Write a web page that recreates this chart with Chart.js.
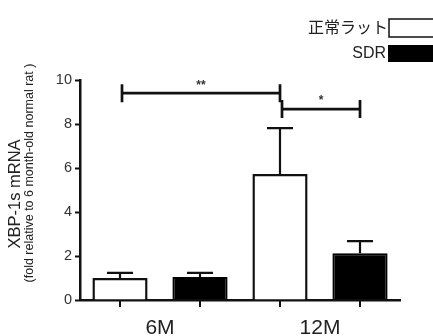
<!DOCTYPE html>
<html>
<head>
<meta charset="utf-8">
<script src="https://cdn.jsdelivr.net/npm/chart.js@4.4.0/dist/chart.umd.min.js"></script>
<style>
  html, body { margin: 0; padding: 0; background: #fff; }
  #wrap { width: 433px; height: 336px; position: relative; }
</style>
</head>
<body>
<div id="wrap"><canvas id="xbpChart"></canvas></div>
<script>
// chart values
const categories = ['6M', '12M'];
const seriesNames = ['正常ラット', 'SDR'];
const normalMean = [1.0, 5.73];
const normalSem = [0.23, 2.08];
const sdrMean = [1.05, 2.12];
const sdrSem = [0.18, 0.56];
const yTicks = [0, 2, 4, 6, 8, 10];
// significance brackets: bar index from, bar index to, height, label
const sigFrom = [0, 2];
const sigTo = [2, 3];
const sigLevel = [9.4, 8.68];
const sigLabel = ['**', '*'];

const titleLines = ['XBP-1s mRNA', '(fold relative to 6 month-old normal rat )'];
const FONT = '"Liberation Sans", Arial, sans-serif';

const errorBars = {
  id: 'errorBars',
  afterDatasetsDraw(chart) {
    const ctx = chart.ctx, y = chart.scales.y;
    const sems = [normalSem, sdrSem];
    ctx.save();
    ctx.strokeStyle = '#111';
    ctx.lineWidth = 2.2;
    chart.data.datasets.forEach((ds, i) => {
      chart.getDatasetMeta(i).data.forEach((bar, j) => {
        const top = y.getPixelForValue(ds.data[j] + sems[i][j]);
        ctx.beginPath();
        ctx.moveTo(bar.x, bar.y);
        ctx.lineTo(bar.x, top);
        ctx.moveTo(bar.x - 13, top);
        ctx.lineTo(bar.x + 13, top);
        ctx.stroke();
      });
    });
    ctx.restore();
  }
};

const extras = {
  id: 'extras',
  afterDraw(chart) {
    const ctx = chart.ctx, y = chart.scales.y, area = chart.chartArea;
    const bars = [];
    categories.forEach((c, j) => {
      chart.data.datasets.forEach((ds, i) => bars.push(chart.getDatasetMeta(i).data[j]));
    });
    bars.sort((a, b) => a.x - b.x);
    ctx.save();
    ctx.strokeStyle = '#111';
    ctx.lineWidth = 2;
    // x tick marks under each bar
    bars.forEach(b => {
      ctx.beginPath();
      ctx.moveTo(b.x, area.bottom);
      ctx.lineTo(b.x, area.bottom + 7);
      ctx.stroke();
    });
    // significance brackets
    ctx.lineWidth = 2.7;
    ctx.fillStyle = '#333';
    ctx.font = 'bold 12px ' + FONT;
    ctx.textAlign = 'center';
    ctx.textBaseline = 'middle';
    sigLevel.forEach((lv, k) => {
      const x1 = bars[sigFrom[k]].x + 2, x2 = bars[sigTo[k]].x;
      const yy = y.getPixelForValue(lv);
      ctx.beginPath();
      ctx.moveTo(x1, yy); ctx.lineTo(x2, yy);
      ctx.moveTo(x1, yy - 9); ctx.lineTo(x1, yy + 9);
      ctx.moveTo(x2, yy - 9); ctx.lineTo(x2, yy + 9);
      ctx.stroke();
      ctx.fillText(sigLabel[k], (x1 + x2) / 2, yy - 8);
    });
    // y axis title
    ctx.fillStyle = '#222';
    ctx.save();
    ctx.translate(15, 194);
    ctx.rotate(-Math.PI / 2);
    ctx.font = '16.5px ' + FONT;
    ctx.fillText(titleLines[0], 0, 0);
    ctx.restore();
    ctx.save();
    ctx.translate(30, 173);
    ctx.rotate(-Math.PI / 2);
    ctx.font = '12.5px ' + FONT;
    ctx.fillText(titleLines[1], 0, 0);
    ctx.restore();
    // legend
    ctx.textAlign = 'right';
    ctx.font = '16px "Noto Sans CJK JP", sans-serif';
    ctx.fillStyle = '#222';
    ctx.fillText(seriesNames[0], 388, 27);
    ctx.font = '16px ' + FONT;
    ctx.fillText(seriesNames[1], 386, 54);
    ctx.lineWidth = 1.5;
    ctx.fillStyle = '#fff';
    ctx.fillRect(389, 19, 50, 18);
    ctx.strokeRect(389, 19, 50, 18);
    ctx.fillStyle = '#000';
    ctx.fillRect(388, 45, 50, 17);
    ctx.restore();
  }
};

const ctxEl = document.getElementById('xbpChart');
new Chart(ctxEl, {
  type: 'bar',
  data: {
    labels: categories,
    datasets: [
      {
        label: seriesNames[0],
        data: normalMean,
        backgroundColor: '#fff',
        borderColor: '#111',
        borderWidth: 2.5
      },
      {
        label: seriesNames[1],
        data: sdrMean,
        backgroundColor: '#000',
        borderColor: '#000',
        borderWidth: 2
      }
    ]
  },
  options: {
    responsive: true,
    maintainAspectRatio: false,
    animation: false,
    categoryPercentage: 1.0,
    barPercentage: 0.69,
    layout: {
      padding: { top: 80, right: 33, left: 0, bottom: 0 }
    },
    plugins: {
      legend: { display: false },
      tooltip: { enabled: false }
    },
    scales: {
      x: {
        grid: { display: false, drawTicks: false },
        border: { display: true, color: '#111', width: 2.5 },
        ticks: {
          color: '#222',
          padding: 16,
          font: { size: 21, family: FONT }
        },
        afterFit(scale) { scale.height = 36; }
      },
      y: {
        min: 0,
        max: 10,
        afterBuildTicks(scale) { scale.ticks = yTicks.map(v => ({ value: v })); },
        grid: {
          drawOnChartArea: false,
          tickLength: 5,
          tickColor: '#111',
          tickWidth: 2
        },
        border: { display: true, color: '#111', width: 2.5 },
        ticks: {
          color: '#333',
          padding: 3,
          font: { size: 14.5, family: FONT }
        },
        afterFit(scale) { scale.width = 80; }
      }
    }
  },
  plugins: [errorBars, extras]
});
</script>
</body>
</html>
